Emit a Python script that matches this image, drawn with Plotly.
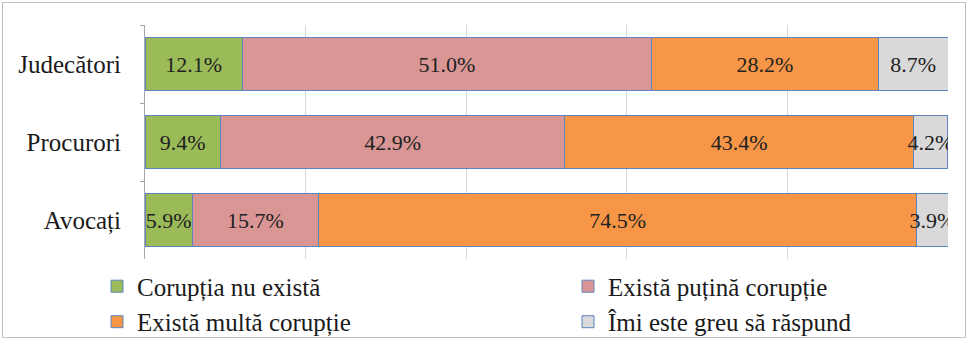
import plotly.graph_objects as go

# Categorii (de sus în jos) și seriile, în procente
categorii = ["Judecători", "Procurori", "Avocați"]
serii = ["Corupția nu există", "Există puțină corupție", "Există multă corupție", "Îmi este greu să răspund"]
nu_exista = [12.1, 9.4, 5.9]
putina = [51.0, 42.9, 15.7]
multa = [28.2, 43.4, 74.5]
greu = [8.7, 4.2, 3.9]
culori = ["#9BBB59", "#D99694", "#F79646", "#D9D9D9"]
# legenda e pe două coloane: 1 și 3 în stânga, 2 și 4 în dreapta
coloana_legenda = ["legend", "legend2", "legend", "legend2"]

FONT = "Liberation Serif"

fig = go.Figure()
for nume, valori, culoare, leg in zip(serii, [nu_exista, putina, multa, greu], culori, coloana_legenda):
    fig.add_trace(go.Bar(
        y=categorii, x=valori, name=nume, orientation="h", legend=leg,
        marker=dict(color=culoare, line=dict(color="#5B86BF", width=1)),
        text=[f"{v:.1f}%" for v in valori],
        textposition="inside", insidetextanchor="middle",
        constraintext="none", textangle=0,
        insidetextfont=dict(family=FONT, size=22, color="#222222"),
        hoverinfo="skip",
    ))

leg_style = dict(orientation="v", xanchor="left", yanchor="top", y=-0.019,
                 traceorder="normal", bgcolor="rgba(0,0,0,0)",
                 font=dict(family=FONT, size=25, color="#1a1a1a"))

fig.update_layout(
    barmode="stack", bargap=0.33,
    width=968, height=340,
    margin=dict(l=145, r=20, t=25, b=81, autoexpand=False),
    paper_bgcolor="white", plot_bgcolor="white",
    font=dict(family=FONT, size=25, color="#1a1a1a"),
    legend=dict(x=(97 - 145) / 803, **leg_style),
    legend2=dict(x=(568 - 145) / 803, **leg_style),
    showlegend=True,
)
fig.update_xaxes(
    range=[0, 100], dtick=20, showticklabels=False, showgrid=True,
    gridcolor="#D9D9D9", gridwidth=1, zeroline=False, showline=False,
)
fig.update_yaxes(
    categoryorder="array", categoryarray=categorii, autorange="reversed",
    showline=True, linecolor="#A6A6A6", linewidth=1,
    ticks="outside", tickson="boundaries", ticklen=4, tickcolor="#A6A6A6",
    ticklabelstandoff=18, showgrid=False,
)

# chenarul exterior al graficului
fig.add_shape(type="rect", xref="paper", yref="paper",
              x0=(2.5 - 145) / 803, x1=(965.5 - 145) / 803,
              y0=(259 - 337.5) / 234, y1=(259 - 2.5) / 234,
              line=dict(color="#BFBFBF", width=1), layer="below")

fig.write_html("out.html", config={"displayModeBar": False},
               post_script="document.body.style.margin='0';")
